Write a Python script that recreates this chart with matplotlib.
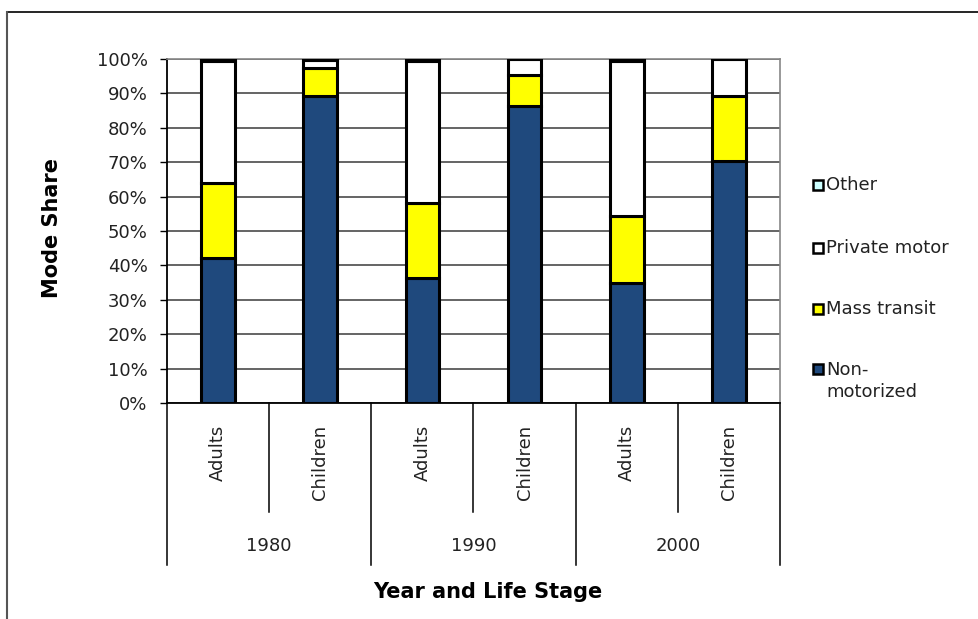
import matplotlib
matplotlib.use("Agg")
import matplotlib.pyplot as plt
from matplotlib.patches import Rectangle
from matplotlib.lines import Line2D
import numpy as np

years = ["1980", "1990", "2000"]
stages = ["Adults", "Children"]
categories = ["Adults", "Children", "Adults", "Children", "Adults", "Children"]
series_names = ["Non-motorized", "Mass transit", "Private motor", "Other"]
legend_labels = ["Non-\nmotorized", "Mass transit", "Private motor", "Other"]
non_motorized = [42.2, 89.2, 36.3, 86.3, 34.9, 70.3]
mass_transit = [21.8, 8.2, 21.8, 9.0, 19.5, 19.0]
private_motor = [35.4, 2.4, 41.3, 4.7, 44.9, 10.7]
other = [0.6, 0.2, 0.6, 0.0, 0.7, 0.0]
colors = ["#1F497D", "#FFFF00", "#FFFFFF", "#CCFFFF"]
yticks = [0, 10, 20, 30, 40, 50, 60, 70, 80, 90, 100]

W, H = 979, 619
fig = plt.figure(figsize=(W / 100, H / 100), dpi=100)
plt.rcParams['font.family'] = ['DejaVu Sans']

def fx(px):
    return px / W

def fy(py):
    return 1 - py / H

L, R, T, B = 167, 780, 59, 403
ax = fig.add_axes([fx(L), fy(B), fx(R) - fx(L), fy(T) - fy(B)])

x = np.arange(len(categories))
bottom = np.zeros(len(categories))
for vals, c in zip([non_motorized, mass_transit, private_motor, other], colors):
    ax.bar(x, vals, width=0.33, bottom=bottom, color=c, edgecolor="black",
           linewidth=2.2, zorder=3)
    bottom += np.array(vals)

ax.set_xlim(-0.5, len(categories) - 0.5)
ax.set_ylim(0, 100)
ax.set_yticks(yticks)
ax.set_yticklabels([f"{t}%" for t in yticks], fontsize=13, color="#222222")
ax.tick_params(axis="y", direction="out", length=5, width=1, pad=9, colors="black",
               labelcolor="#222222")
ax.set_xticks([])
ax.yaxis.grid(True, color="#4a4a4a", linewidth=1.2, zorder=0)
ax.set_axisbelow(True)
for s in ["top", "right"]:
    ax.spines[s].set_color("#888888")
    ax.spines[s].set_linewidth(1.2)
ax.spines["left"].set_color("black")
ax.spines["left"].set_linewidth(1.3)
ax.spines["bottom"].set_color("black")
ax.spines["bottom"].set_linewidth(1.3)

# category axis separators and labels
tr = ax.get_xaxis_transform()
h_px = B - T
inner_y = -(512 - B) / h_px
outer_y = -(565 - B) / h_px
for i in range(len(categories) + 1):
    xb = i - 0.5
    yb = outer_y if i % 2 == 0 else inner_y
    ax.plot([xb, xb], [0, yb], color="black", linewidth=1.1, transform=tr,
            clip_on=False)
for i, lab in enumerate(categories):
    ax.text(i, -(425 - B) / h_px, lab, rotation=90, ha="center", va="top",
            fontsize=13, color="#222222", transform=tr)
for j, yr in enumerate(years):
    ax.text(2 * j + 0.5, -(546 - B) / h_px, yr, ha="center", va="center",
            fontsize=13, color="#222222", transform=tr)

fig.text(fx(488), fy(592), "Year and Life Stage", ha="center", va="center",
         fontsize=15, fontweight="bold")
fig.text(fx(52), fy(228), "Mode Share", ha="center", va="center",
         fontsize=15, fontweight="bold", rotation=90)

# legend (manual, top to bottom: Other, Private motor, Mass transit, Non-motorized)
leg_y = [369, 309, 248, 185]
for lab, c, yc in zip(legend_labels, colors, leg_y):
    fig.patches.append(Rectangle((fx(813), fy(yc + 5)), 10 / W, 10 / H,
                                 facecolor=c, edgecolor="black", linewidth=1.8,
                                 transform=fig.transFigure, figure=fig))
    fig.text(fx(826), fy(yc), lab, ha="left", va="center",
             fontsize=13, color="#222222", linespacing=1.25)
# place the two-line label so its first line sits next to its marker
fig.texts[-4].set_position((fx(826), fy(381)))

# outer chart border (top and left)
fig.add_artist(Line2D([fx(7), 1], [fy(12), fy(12)], color="black", linewidth=1.2,
                      transform=fig.transFigure))
fig.add_artist(Line2D([fx(7), fx(7)], [fy(12), 0], color="#555555", linewidth=1.5,
                      transform=fig.transFigure))

fig.savefig("out.png", dpi=100)
